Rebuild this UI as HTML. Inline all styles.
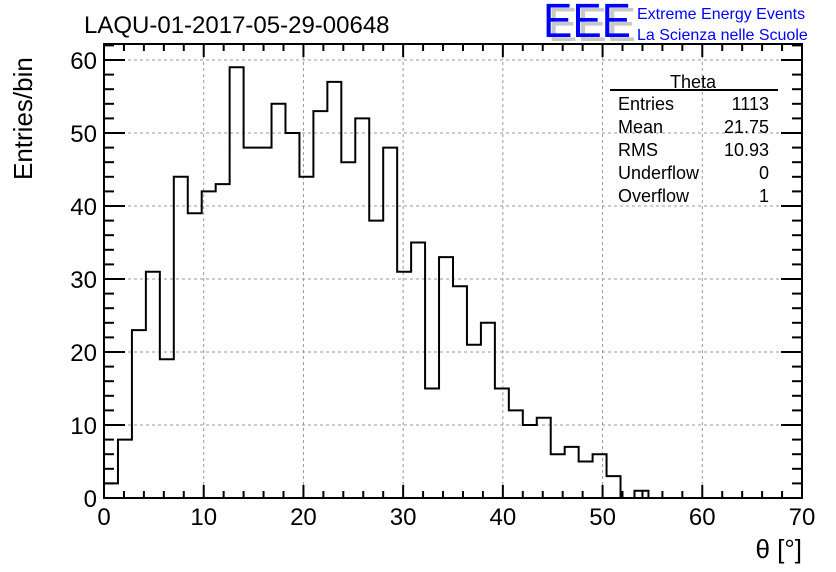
<!DOCTYPE html>
<html><head><meta charset="utf-8"><style>
html,body{margin:0;padding:0;background:#fff;}
svg{display:block;font-family:"Liberation Sans",sans-serif;}
</style></head><body>
<svg id="chart" width="836" height="572" viewBox="0 0 836 572" xmlns="http://www.w3.org/2000/svg">
<rect width="836" height="572" fill="#fff"/>
<g id="grid"></g>
<g id="ticks"></g>
<path id="hist" fill="none" stroke="#000" stroke-width="2"/>
<rect x="104" y="44" width="698" height="454" fill="none" stroke="#000" stroke-width="2"/>
<text x="84" y="33" font-size="24">LAQU-01-2017-05-29-00648</text>
<g>
<text x="548" y="41" font-size="48" fill="#c8c8c8" textLength="88" lengthAdjust="spacingAndGlyphs">EEE</text>
<text x="543" y="37" font-size="48" fill="#0000ff" textLength="88" lengthAdjust="spacingAndGlyphs">EEE</text>
<text x="637" y="19" font-size="16" fill="#0000ff">Extreme Energy Events</text>
<text x="637" y="40" font-size="16" fill="#0000ff">La Scienza nelle Scuole</text>
</g>
<g font-size="18">
<text x="693" y="88" text-anchor="middle">Theta</text>
<line x1="610" y1="90" x2="778" y2="90" stroke="#000" stroke-width="2"/>
<text x="618" y="110">Entries</text><text x="769" y="110" text-anchor="end">1113</text>
<text x="618" y="133">Mean</text><text x="769" y="133" text-anchor="end">21.75</text>
<text x="618" y="156">RMS</text><text x="769" y="156" text-anchor="end">10.93</text>
<text x="618" y="179">Underflow</text><text x="769" y="179" text-anchor="end">0</text>
<text x="618" y="202">Overflow</text><text x="769" y="202" text-anchor="end">1</text>
</g>
<text transform="translate(32,180) rotate(-90)" font-size="26">Entries/bin</text>
<text x="802" y="558" font-size="26" text-anchor="end">θ [°]</text>
<g id="labels" font-size="24"></g>
</svg>
<script>
const binCounts = [2,8,23,31,19,44,39,42,43,59,48,48,54,50,44,53,57,46,52,38,48,31,35,15,33,29,21,24,15,12,10,11,6,7,5,6,3,0,1,0,0,0,0,0,0,0,0,0,0,0];
const xTicks = [0,10,20,30,40,50,60,70];
const yTicks = [0,10,20,30,40,50,60];
const xMin = 0, xMax = 70, yMin = 0, yMax = 60;
const L=104,R=802,T=44,B=498,Y60=60;
function X(v){return L+(v-xMin)/(xMax-xMin)*(R-L);}
function Y(v){return B-(v-yMin)/(yMax-yMin)*(B-Y60);}
const NS="http://www.w3.org/2000/svg";
function mk(tag,attrs,parent){const e=document.createElementNS(NS,tag);for(const k in attrs)e.setAttribute(k,attrs[k]);parent.appendChild(e);return e;}
const grid=document.getElementById('grid'),ticks=document.getElementById('ticks'),labels=document.getElementById('labels');
xTicks.forEach(t=>{
  if(t>xMin&&t<xMax){const g=mk('line',{x1:X(t),x2:X(t),y1:T,y2:B,stroke:'#999','stroke-dasharray':'3,3','stroke-width':1},grid);
  
  }
  const l=mk('text',{x:X(t),y:525,'text-anchor':'middle'},labels);l.textContent=t;
  
  
});
yTicks.forEach(t=>{
  if(t>yMin){const g=mk('line',{x1:L,x2:R,y1:Y(t),y2:Y(t),stroke:'#999','stroke-dasharray':'3,3','stroke-width':1},grid);
  
  }
  const l=mk('text',{x:97,y:Y(t)+9,'text-anchor':'end'},labels);l.textContent=t;
  
  
});
for(let v=xMin;v<=xMax;v+=2){const len=(v%10===0)?13:7;
  mk('line',{x1:X(v),x2:X(v),y1:B,y2:B-len,stroke:'#000','stroke-width':2},ticks);
  mk('line',{x1:X(v),x2:X(v),y1:T,y2:T+len,stroke:'#000','stroke-width':2},ticks);}
for(let v=yMin;v<=yMax+3;v+=2){if(Y(v)<T)continue;const len=(v%10===0)?21:10;
  mk('line',{x1:L,x2:L+len,y1:Y(v),y2:Y(v),stroke:'#000','stroke-width':2},ticks);
  mk('line',{x1:R,x2:R-len,y1:Y(v),y2:Y(v),stroke:'#000','stroke-width':2},ticks);}
const w=(xMax-xMin)/binCounts.length;
let d='M'+X(0)+','+Y(0);
binCounts.forEach((c,i)=>{d+=' L'+X(i*w)+','+Y(c)+' L'+X((i+1)*w)+','+Y(c);});
d+=' L'+X(xMax)+','+Y(0);
document.getElementById('hist').setAttribute('d',d);
</script>
</body></html>
